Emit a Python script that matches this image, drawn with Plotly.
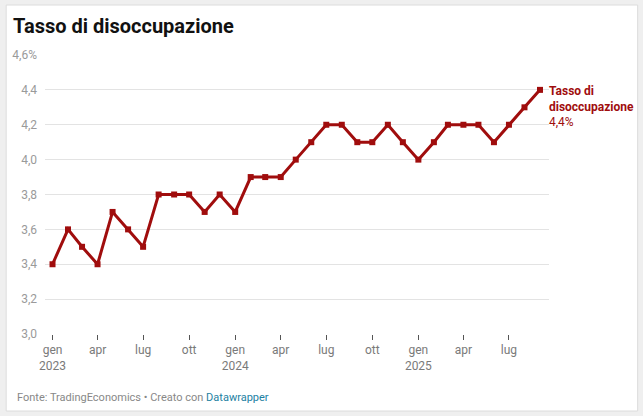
import plotly.graph_objects as go

# Data
months = ["2023-01-01","2023-02-01","2023-03-01","2023-04-01","2023-05-01","2023-06-01",
          "2023-07-01","2023-08-01","2023-09-01","2023-10-01","2023-11-01","2023-12-01",
          "2024-01-01","2024-02-01","2024-03-01","2024-04-01","2024-05-01","2024-06-01",
          "2024-07-01","2024-08-01","2024-09-01","2024-10-01","2024-11-01","2024-12-01",
          "2025-01-01","2025-02-01","2025-03-01","2025-04-01","2025-05-01","2025-06-01",
          "2025-07-01","2025-08-01","2025-09-01"]
rate = [3.4, 3.6, 3.5, 3.4, 3.7, 3.6, 3.5, 3.8, 3.8, 3.8, 3.7, 3.8,
        3.7, 3.9, 3.9, 3.9, 4.0, 4.1, 4.2, 4.2, 4.1, 4.1, 4.2, 4.1,
        4.0, 4.1, 4.2, 4.2, 4.2, 4.1, 4.2, 4.3, 4.4]

x_tickvals = ["2023-01-01","2023-04-01","2023-07-01","2023-10-01",
              "2024-01-01","2024-04-01","2024-07-01","2024-10-01",
              "2025-01-01","2025-04-01","2025-07-01"]
x_ticktext = ["gen<br>2023","apr","lug","ott","gen<br>2024","apr","lug","ott",
              "gen<br>2025","apr","lug"]
y_tickvals = [3.0, 3.2, 3.4, 3.6, 3.8, 4.0, 4.2, 4.4, 4.6]
y_ticktext = ["3,0","3,2","3,4","3,6","3,8","4,0","4,2","4,4","4,6%"]

title = "Tasso di disoccupazione"
series_name = "Tasso di disoccupazione"
source = "Fonte: TradingEconomics • Creato con "

W, H = 643, 416
L, R, T, B = 43, 94, 55, 82
pw, ph = W - L - R, H - T - B

def px_x(p):
    return (p - L) / pw

def px_y(p):
    return (H - B - p) / ph

red = "#a00d0d"

fig = go.Figure()
fig.add_trace(go.Scatter(
    x=months, y=rate, mode="lines+markers",
    line=dict(color=red, width=3),
    marker=dict(symbol="square", size=6, color=red),
    hoverinfo="skip", showlegend=False,
))

fig.add_annotation(
    x=months[-1], y=rate[-1], xref="x", yref="y",
    text="<b>Tasso di<br>disoccupazione</b><br>" + f"{rate[-1]:.1f}".replace(".", ",") + "%",
    showarrow=False, xanchor="left", yanchor="top", align="left",
    xshift=7, yshift=8,
    font=dict(family="Roboto", size=12, color=red),
)

fig.add_annotation(
    x=px_x(13), y=px_y(397), xref="paper", yref="paper",
    text=source + "<span style='color:#1d81a2'>Datawrapper</span>",
    showarrow=False, xanchor="left", yanchor="middle",
    font=dict(family="Roboto", size=11, color="#888888"),
)

# card background
fig.add_shape(type="rect", xref="paper", yref="paper", layer="below",
              x0=px_x(4), x1=px_x(638), y0=px_y(411), y1=px_y(5),
              fillcolor="white", line=dict(color="#dcdcdc", width=1))

fig.update_layout(
    width=W, height=H,
    margin=dict(l=L, r=R, t=T, b=B, pad=0),
    paper_bgcolor="#efefef", plot_bgcolor="rgba(0,0,0,0)",
    font=dict(family="Roboto", size=12, color="#888888"),
    title=dict(text="<b>" + title + "</b>", x=13 / W, xanchor="left",
               y=1 - 19 / H, yanchor="top",
               font=dict(family="Roboto", size=20, color="#111111")),
    xaxis=dict(type="date", range=["2022-12-17", "2025-09-19"],
               tickvals=x_tickvals, ticktext=x_ticktext,
               showgrid=False, zeroline=False, showline=False,
               ticks="outside", ticklen=5, tickwidth=1, tickcolor="#555555",
               tickfont=dict(family="Roboto", size=12, color="#7a7a7a"),
               fixedrange=True),
    yaxis=dict(range=[3.0, 4.6], tickvals=y_tickvals, ticktext=y_ticktext,
               showgrid=True, gridcolor="#e3e3e3", gridwidth=1,
               zeroline=False, showline=False, ticks="",
               ticklabelstandoff=7,
               tickfont=dict(family="Roboto", size=12, color="#9a9a9a"),
               fixedrange=True),
)

fig.write_html("out.html")
